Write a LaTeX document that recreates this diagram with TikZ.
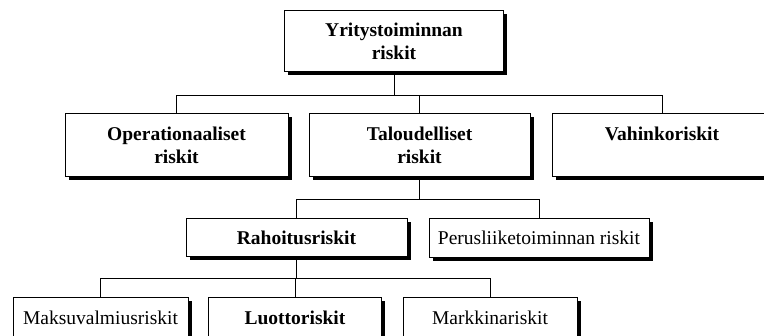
\documentclass[tikz,border=0pt]{standalone}
\usepackage{fontspec}
\setmainfont{Liberation Serif}
\usetikzlibrary{shadows}
\begin{document}
\begin{tikzpicture}[x=1pt,y=-1pt,
  box/.style={draw=black, line width=1pt, fill=white, align=center, inner sep=0pt,
    font=\fontsize{19.5}{23.5}\selectfont,
    drop shadow={shadow xshift=3.5pt, shadow yshift=-3.5pt, fill=black, opacity=1}},
  big/.style={box, font=\fontsize{19.5}{23.5}\selectfont\bfseries},
  conn/.style={draw=black, line width=1pt}]
\useasboundingbox (0,0) rectangle (764,336);
\node[big, minimum width=219pt, minimum height=61pt] (top) at (394,41.5) {Yritystoiminnan\\riskit};
\node[big, minimum width=223pt, minimum height=63pt] (oper) at (176.5,145.5) {Operationaaliset\\riskit};
\node[big, minimum width=221pt, minimum height=63pt] (talo) at (419.5,145.5) {Taloudelliset\\riskit};
\node[big, minimum width=220pt, minimum height=63pt] (vahin) at (662,145.5) {Vahinkoriskit\\\phantom{riskit}};
\node[big, minimum width=221pt, minimum height=38pt] (raho) at (296.5,238) {Rahoitusriskit};
\node[box, minimum width=220pt, minimum height=39pt] (perus) at (539,238) {Perusliiketoiminnan riskit};
\node[box, minimum width=175pt, minimum height=40pt] (maks) at (100.5,318) {Maksuvalmiusriskit};
\node[big, minimum width=173pt, minimum height=40pt] (luot) at (295,318) {Luottoriskit};
\node[box, minimum width=174pt, minimum height=40pt] (mark) at (490,318) {Markkinariskit};
\coordinate (h1) at (0,96);
\coordinate (h2) at (0,200);
\coordinate (h3) at (0,279);
\draw[conn] (top.south) -- (top.south |- h1);
\draw[conn] (oper.north) -- (oper.north |- h1) -- (vahin.north |- h1) -- (vahin.north);
\draw[conn] (talo.north) -- (talo.north |- h1);
\draw[conn] (talo.south) -- (talo.south |- h2);
\draw[conn] (raho.north) -- (raho.north |- h2) -- (perus.north |- h2) -- (perus.north);
\draw[conn] (raho.south) -- (raho.south |- h3);
\draw[conn] (maks.north) -- (maks.north |- h3) -- (mark.north |- h3) -- (mark.north);
\draw[conn] (luot.north) -- (luot.north |- h3);
\end{tikzpicture}
\end{document}
